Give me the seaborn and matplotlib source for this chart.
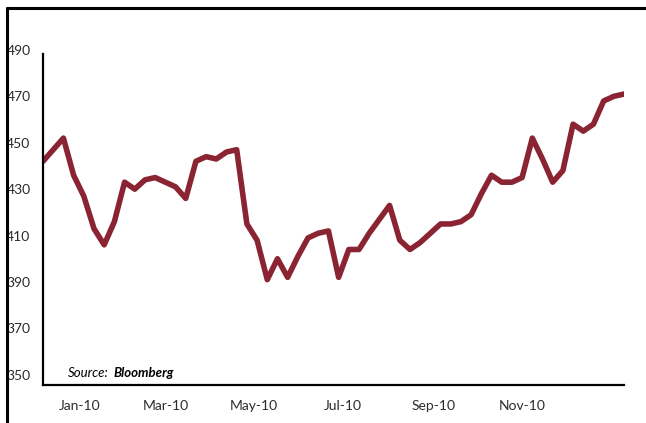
import pandas as pd
import matplotlib
matplotlib.use("Agg")
import matplotlib.pyplot as plt
import matplotlib.dates as mdates
from matplotlib.lines import Line2D
import seaborn as sns

sns.set_style("white")
plt.rcParams["font.family"] = ["Lato", "DejaVu Sans"]

# weekly readings, Dec-09 to Jan-11
start_date = "2009-12-07"
values = [442, 447, 452, 436, 427, 413, 406, 416, 433, 430,
          434, 435, 433, 431, 426, 442, 444, 443, 446, 447,
          415, 408, 391, 400, 392, 401, 409, 411, 412, 392,
          404, 404, 411, 417, 423, 408, 404, 407, 411, 415,
          415, 416, 419, 428, 436, 433, 433, 435, 452, 443,
          433, 438, 458, 455, 458, 468, 470, 471]
tick_dates = ["2010-01-01", "2010-03-01", "2010-05-01",
              "2010-07-01", "2010-09-01", "2010-11-01"]
y_ticks = [350, 370, 390, 410, 430, 450, 470, 490]

df = pd.DataFrame({
    "date": pd.date_range(start_date, periods=len(values), freq="7D"),
    "value": values,
})

line_color = "#8a2433"

fig = plt.figure(figsize=(6.46, 4.23), dpi=100)
ax = fig.add_axes([0.0666, 0.0898, 0.8994, 0.7922])

sns.lineplot(data=df, x="date", y="value", color=line_color, linewidth=4.0,
             ax=ax, legend=False)
ax.lines[0].set_solid_capstyle("round")
ax.lines[0].set_solid_joinstyle("round")

ax.set_xlim(df["date"].iloc[0], df["date"].iloc[-1])
ax.set_ylim(345.6, 490)
ax.set_xlabel("")
ax.set_ylabel("")

ax.set_yticks(y_ticks)
ax.set_xticks(pd.to_datetime(tick_dates))
ax.xaxis.set_major_formatter(mdates.DateFormatter("%b-%y"))
ax.tick_params(axis="both", length=0, labelsize=10, colors="#2b2b2b")
ax.tick_params(axis="y", pad=9)
ax.tick_params(axis="x", pad=11)

for side in ["top", "right"]:
    ax.spines[side].set_visible(False)
for side in ["left", "bottom"]:
    ax.spines[side].set_color("black")
    ax.spines[side].set_linewidth(1.6)
ax.spines["left"].set_bounds(345.6, 488.3)

fig.text(0.105, 0.108, "Source:", fontsize=9.5, style="italic", color="black")
fig.text(0.176, 0.108, "Bloomberg", fontsize=9.5, style="italic",
         weight="bold", color="black")

# outer frame (left and top)
fig.add_artist(Line2D([0.0108, 0.0108], [0.0, 0.980], color="black",
                      linewidth=2.2, transform=fig.transFigure))
fig.add_artist(Line2D([0.0108, 1.0], [0.980, 0.980], color="black",
                      linewidth=2.2, transform=fig.transFigure))

fig.savefig("out.png", dpi=100)
